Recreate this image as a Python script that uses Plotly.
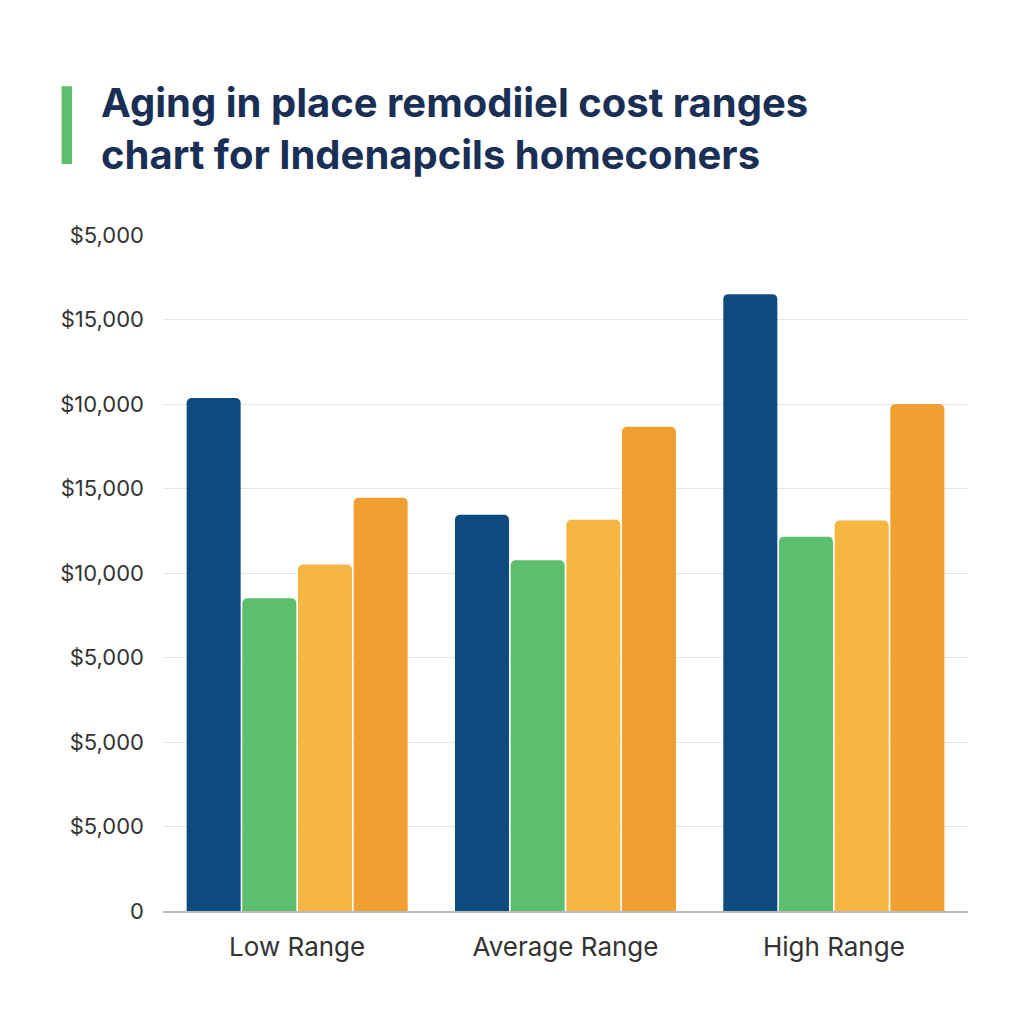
import plotly.graph_objects as go

categories = ["Low Range", "Average Range", "High Range"]
series_a = [30350, 23450, 36500]
series_b = [18500, 20750, 22150]
series_c = [20500, 23150, 23100]
series_d = [24450, 28650, 30000]
tick_vals = [0, 5000, 10000, 15000, 20000, 25000, 30000, 35000, 40000]
tick_text = ["0", "$5,000", "$5,000", "$5,000", "$10,000", "$15,000", "$10,000", "$15,000", "$5,000"]
colors = ["#0d4a7e", "#5cbf6e", "#f5b642", "#f0a030"]

fig = go.Figure()
for vals, c in zip([series_a, series_b, series_c, series_d], colors):
    fig.add_trace(go.Bar(x=categories, y=vals, marker=dict(color=c, cornerradius=5, line_width=0)))

fig.update_layout(
    width=1024, height=1024, paper_bgcolor="white", plot_bgcolor="white",
    margin=dict(l=155, r=64, t=227, b=121),
    barmode="group", bargap=0.17, bargroupgap=0.03, showlegend=False,
    font=dict(family="Inter, DejaVu Sans", color="#333"),
    xaxis=dict(tickfont=dict(size=26, color="#333"), ticks="", showline=True, linecolor="#bbb", linewidth=2,
               ticklabelstandoff=12),
    yaxis=dict(range=[0, 40000], tickvals=tick_vals, ticktext=tick_text, tickfont=dict(size=22, color="#333"),
               gridcolor="#e6e6e6", zeroline=False, ticklabelstandoff=18),
    shapes=[dict(type="rect", xref="paper", yref="paper", x0=-0.126, x1=-0.113, y0=1.105, y1=1.22,
                 fillcolor="#5cbf6e", line_width=0)],
    annotations=[dict(xref="paper", yref="paper", x=-0.08, y=1.235, xanchor="left", yanchor="top", align="left",
                      showarrow=False,
                      text="<b>Aging in place remodiiel cost ranges<br>chart for Indenapcils homeconers</b>",
                      font=dict(size=40, color="#1a2f55"))],
)
fig.write_html("out.html")
